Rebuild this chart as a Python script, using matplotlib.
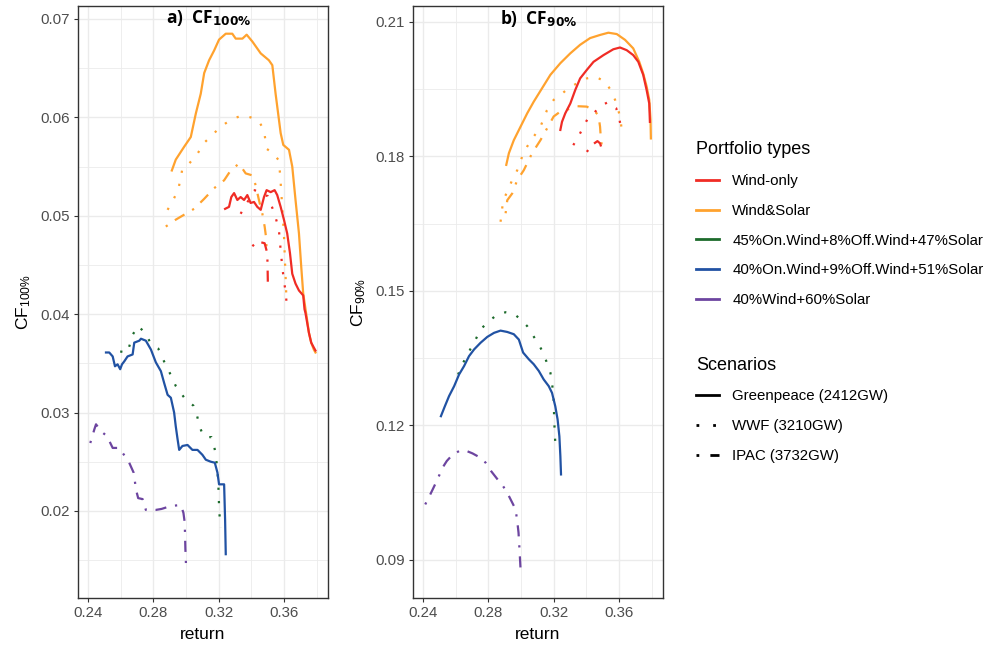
import matplotlib
matplotlib.use("Agg")
import matplotlib.pyplot as plt
from matplotlib.lines import Line2D
from matplotlib.ticker import MultipleLocator, FormatStrFormatter

plt.rcParams['font.family'] = ['Liberation Sans', 'DejaVu Sans']
plt.rcParams['mathtext.fontset'] = 'custom'
plt.rcParams['mathtext.rm'] = 'Liberation Sans'
plt.rcParams['mathtext.it'] = 'Liberation Sans:italic'

# ---- panel a: CF100% ----
a_ws_gp_x = [0.2913, 0.2937, 0.2988, 0.3029, 0.3060, 0.3090, 0.3111, 0.3141, 0.3172, 0.3202,
             0.3243, 0.3283, 0.3304, 0.3345, 0.3371, 0.3406, 0.3457, 0.3507, 0.3528, 0.3548,
             0.3579, 0.3595, 0.3630, 0.3650, 0.3670, 0.3691, 0.3705, 0.3717, 0.3741, 0.3752,
             0.3766, 0.3782, 0.3792]
a_ws_gp_y = [0.0546, 0.0557, 0.0570, 0.0580, 0.0604, 0.0624, 0.0645, 0.0658, 0.0668, 0.0679,
             0.0685, 0.0685, 0.0680, 0.0680, 0.0684, 0.0677, 0.0665, 0.0658, 0.0653, 0.0624,
             0.0584, 0.0572, 0.0567, 0.0550, 0.0516, 0.0482, 0.0448, 0.0421, 0.0394, 0.0381,
             0.0371, 0.0364, 0.0361]
a_wo_gp_x = [0.3239, 0.3263, 0.3277, 0.3294, 0.3314, 0.3334, 0.3355, 0.3375, 0.3395, 0.3416,
             0.3436, 0.3457, 0.3477, 0.3493, 0.3518, 0.3542, 0.3558, 0.3579, 0.3599, 0.3619,
             0.3636, 0.3650, 0.3670, 0.3691, 0.3717, 0.3725, 0.3731, 0.3752, 0.3766, 0.3782,
             0.3792]
a_wo_gp_y = [0.0507, 0.0509, 0.0519, 0.0523, 0.0516, 0.0519, 0.0516, 0.0521, 0.0513, 0.0514,
             0.0509, 0.0506, 0.0519, 0.0526, 0.0524, 0.0526, 0.0521, 0.0509, 0.0496, 0.0482,
             0.0462, 0.0441, 0.0431, 0.0424, 0.0419, 0.0405, 0.0401, 0.0381, 0.0371, 0.0366,
             0.0363]
a_ws_wwf_x = [0.2887, 0.2921, 0.2952, 0.2978, 0.3019, 0.3070, 0.3110, 0.3161, 0.3202, 0.3243,
              0.3294, 0.3345, 0.3395, 0.3446, 0.3477, 0.3493, 0.3538, 0.3568, 0.3575, 0.3583,
              0.3591, 0.3599, 0.3605, 0.3611, 0.3615]
a_ws_wwf_y = [0.0506, 0.0516, 0.0526, 0.0548, 0.0553, 0.0563, 0.0574, 0.0582, 0.0589, 0.0594,
              0.0599, 0.0602, 0.0600, 0.0596, 0.0587, 0.0568, 0.0563, 0.0556, 0.0543, 0.0524,
              0.0502, 0.0482, 0.0455, 0.0431, 0.0411]
a_wo_wwf_x = [0.3334, 0.3380, 0.3420, 0.3460, 0.3500, 0.3542, 0.3568, 0.3579, 0.3589, 0.3599,
              0.3611, 0.3615]
a_wo_wwf_y = [0.0502, 0.0515, 0.0526, 0.0522, 0.0520, 0.0502, 0.0486, 0.0465, 0.0448, 0.0434,
              0.0421, 0.0411]
a_ws_ipac_x = [0.2876, 0.2937, 0.2998, 0.3049, 0.3110, 0.3172, 0.3233, 0.3273, 0.3324, 0.3365,
               0.3406, 0.3426, 0.3446, 0.3467, 0.3481, 0.3489, 0.3493]
a_ws_ipac_y = [0.0489, 0.0496, 0.0502, 0.0507, 0.0517, 0.0528, 0.0536, 0.0546, 0.0553, 0.0543,
               0.0541, 0.0531, 0.0516, 0.0502, 0.0489, 0.0479, 0.0466]
a_wo_ipac_x = [0.3406, 0.3436, 0.3481, 0.3497, 0.3499, 0.3501]
a_wo_ipac_y = [0.0469, 0.0474, 0.0472, 0.0462, 0.0448, 0.0428]
a_blue_x = [0.2510, 0.2530, 0.2551, 0.2565, 0.2581, 0.2597, 0.2608, 0.2622, 0.2642, 0.2673,
            0.2683, 0.2714, 0.2724, 0.2754, 0.2785, 0.2815, 0.2846, 0.2866, 0.2887, 0.2907,
            0.2927, 0.2937, 0.2948, 0.2958, 0.2978, 0.3009, 0.3039, 0.3070, 0.3100, 0.3121,
            0.3151, 0.3176, 0.3192, 0.3202, 0.3233, 0.3239, 0.3243]
a_blue_y = [0.0361, 0.0361, 0.0357, 0.0347, 0.0349, 0.0344, 0.0349, 0.0352, 0.0357, 0.0359,
            0.0371, 0.0373, 0.0375, 0.0373, 0.0364, 0.0351, 0.0342, 0.0330, 0.0318, 0.0315,
            0.0300, 0.0286, 0.0273, 0.0262, 0.0266, 0.0267, 0.0262, 0.0262, 0.0257, 0.0252,
            0.0250, 0.0249, 0.0239, 0.0227, 0.0227, 0.0191, 0.0156]
a_green_x = [0.2597, 0.2642, 0.2673, 0.2707, 0.2754, 0.2781, 0.2830, 0.2856, 0.2887, 0.2937,
             0.2998, 0.3045, 0.3066, 0.3080, 0.3106, 0.3127, 0.3155, 0.3172, 0.3182, 0.3192,
             0.3198, 0.3202, 0.3206, 0.3212]
a_green_y = [0.0362, 0.0361, 0.0379, 0.0388, 0.0380, 0.0371, 0.0365, 0.0355, 0.0345, 0.0327,
             0.0313, 0.0307, 0.0298, 0.0287, 0.0276, 0.0275, 0.0275, 0.0266, 0.0256, 0.0242,
             0.0225, 0.0205, 0.0193, 0.0183]
a_purple_x = [0.2414, 0.2439, 0.2449, 0.2479, 0.2516, 0.2551, 0.2591, 0.2612, 0.2652, 0.2679,
              0.2687, 0.2693, 0.2707, 0.2734, 0.2754, 0.2785, 0.2815, 0.2850, 0.2907, 0.2968,
              0.2984, 0.2992, 0.2996, 0.3001]
a_purple_y = [0.0269, 0.0283, 0.0288, 0.0281, 0.0276, 0.0264, 0.0264, 0.0259, 0.0249, 0.0239,
              0.0230, 0.0222, 0.0213, 0.0212, 0.0201, 0.0201, 0.0201, 0.0202, 0.0205, 0.0206,
              0.0198, 0.0188, 0.0161, 0.0140]

# ---- panel b: CF90% ----
b_ws_gp_x = [0.2910, 0.2926, 0.2956, 0.2997, 0.3038, 0.3078, 0.3129, 0.3180, 0.3241, 0.3302,
             0.3362, 0.3423, 0.3484, 0.3535, 0.3586, 0.3637, 0.3687, 0.3724, 0.3748, 0.3769,
             0.3785, 0.3793, 0.3795]
b_ws_gp_y = [0.1781, 0.1807, 0.1836, 0.1866, 0.1896, 0.1922, 0.1952, 0.1982, 0.2008, 0.2030,
             0.2049, 0.2064, 0.2071, 0.2076, 0.2073, 0.2060, 0.2041, 0.2011, 0.1985, 0.1956,
             0.1926, 0.1881, 0.1840]
b_wo_gp_x = [0.3241, 0.3251, 0.3271, 0.3302, 0.3332, 0.3362, 0.3403, 0.3444, 0.3505, 0.3565,
             0.3606, 0.3647, 0.3687, 0.3718, 0.3748, 0.3769, 0.3785, 0.3789]
b_wo_gp_y = [0.1859, 0.1877, 0.1896, 0.1918, 0.1948, 0.1974, 0.1993, 0.2011, 0.2026, 0.2039,
             0.2043, 0.2037, 0.2026, 0.2011, 0.1982, 0.1948, 0.1918, 0.1877]
b_ws_wwf_x = [0.2875, 0.2891, 0.2916, 0.2946, 0.2977, 0.3007, 0.3038, 0.3078, 0.3119, 0.3159,
              0.3200, 0.3241, 0.3291, 0.3342, 0.3403, 0.3454, 0.3515, 0.3549, 0.3576, 0.3596,
              0.3610, 0.3616]
b_ws_wwf_y = [0.1654, 0.1702, 0.1721, 0.1747, 0.1769, 0.1799, 0.1822, 0.1844, 0.1866, 0.1903,
              0.1926, 0.1937, 0.1952, 0.1963, 0.1974, 0.1978, 0.1967, 0.1948, 0.1926, 0.1903,
              0.1881, 0.1859]
b_wo_wwf_x = [0.3320, 0.3350, 0.3381, 0.3411, 0.3448, 0.3484, 0.3533, 0.3582, 0.3600, 0.3612]
b_wo_wwf_y = [0.1825, 0.1843, 0.1865, 0.1886, 0.1897, 0.1912, 0.1921, 0.1908, 0.1888, 0.1863]
b_ws_ipac_x = [0.2906, 0.2916, 0.2946, 0.2977, 0.3017, 0.3068, 0.3119, 0.3159, 0.3200, 0.3241,
               0.3281, 0.3342, 0.3403, 0.3444, 0.3474, 0.3484, 0.3488, 0.3494]
b_ws_ipac_y = [0.1673, 0.1702, 0.1717, 0.1747, 0.1769, 0.1807, 0.1836, 0.1862, 0.1889, 0.1900,
               0.1904, 0.1912, 0.1911, 0.1903, 0.1892, 0.1866, 0.1844, 0.1825]
b_wo_ipac_x = [0.3403, 0.3433, 0.3468, 0.3484, 0.3490]
b_wo_ipac_y = [0.1810, 0.1825, 0.1834, 0.1829, 0.1822]
b_blue_x = [0.2510, 0.2534, 0.2560, 0.2591, 0.2621, 0.2652, 0.2682, 0.2713, 0.2753, 0.2794,
            0.2835, 0.2875, 0.2916, 0.2956, 0.2987, 0.3013, 0.3048, 0.3078, 0.3109, 0.3139,
            0.3170, 0.3190, 0.3210, 0.3224, 0.3235, 0.3241, 0.3245]
b_blue_y = [0.1220, 0.1242, 0.1265, 0.1287, 0.1313, 0.1332, 0.1354, 0.1369, 0.1384, 0.1397,
            0.1406, 0.1411, 0.1408, 0.1403, 0.1391, 0.1362, 0.1347, 0.1336, 0.1321, 0.1302,
            0.1287, 0.1272, 0.1242, 0.1213, 0.1175, 0.1131, 0.1090]
b_green_x = [0.2615, 0.2642, 0.2672, 0.2713, 0.2753, 0.2804, 0.2855, 0.2906, 0.2956, 0.3001,
             0.3038, 0.3074, 0.3109, 0.3135, 0.3159, 0.3180, 0.3190, 0.3200, 0.3204, 0.3210]
b_green_y = [0.1313, 0.1336, 0.1358, 0.1384, 0.1414, 0.1432, 0.1447, 0.1452, 0.1449, 0.1435,
             0.1421, 0.1400, 0.1380, 0.1362, 0.1339, 0.1317, 0.1295, 0.1257, 0.1205, 0.1159]
b_purple_x = [0.2414, 0.2439, 0.2459, 0.2489, 0.2520, 0.2546, 0.2581, 0.2621, 0.2656, 0.2703,
              0.2753, 0.2784, 0.2818, 0.2865, 0.2885, 0.2916, 0.2952, 0.2967, 0.2977, 0.2985,
              0.2991, 0.2997]
b_purple_y = [0.1023, 0.1041, 0.1056, 0.1079, 0.1105, 0.1120, 0.1134, 0.1142, 0.1144, 0.1137,
              0.1127, 0.1116, 0.1097, 0.1075, 0.1067, 0.1049, 0.1023, 0.1012, 0.0986, 0.0960,
              0.0922, 0.0881]

portfolios = ['Wind-only', 'Wind&Solar', '45%On.Wind+8%Off.Wind+47%Solar',
              '40%On.Wind+9%Off.Wind+51%Solar', '40%Wind+60%Solar']
scenarios = ['Greenpeace (2412GW)', 'WWF (3210GW)', 'IPAC (3732GW)']
x_ticks = [0.24, 0.28, 0.32, 0.36]

colors = {'Wind-only': '#F02C25', 'Wind&Solar': '#FFA22E',
          '45%On.Wind+8%Off.Wind+47%Solar': '#1D6B2C',
          '40%On.Wind+9%Off.Wind+51%Solar': '#2152A3',
          '40%Wind+60%Solar': '#6D45A0'}
styles = {'Greenpeace (2412GW)': '-', 'WWF (3210GW)': (0, (1, 5)),
          'IPAC (3732GW)': (0, (1, 4, 5, 4))}

panel_a = [
    (a_ws_wwf_x, a_ws_wwf_y, 'Wind&Solar', 'WWF (3210GW)'),
    (a_ws_ipac_x, a_ws_ipac_y, 'Wind&Solar', 'IPAC (3732GW)'),
    (a_wo_wwf_x, a_wo_wwf_y, 'Wind-only', 'WWF (3210GW)'),
    (a_wo_ipac_x, a_wo_ipac_y, 'Wind-only', 'IPAC (3732GW)'),
    (a_ws_gp_x, a_ws_gp_y, 'Wind&Solar', 'Greenpeace (2412GW)'),
    (a_wo_gp_x, a_wo_gp_y, 'Wind-only', 'Greenpeace (2412GW)'),
    (a_green_x, a_green_y, '45%On.Wind+8%Off.Wind+47%Solar', 'WWF (3210GW)'),
    (a_blue_x, a_blue_y, '40%On.Wind+9%Off.Wind+51%Solar', 'Greenpeace (2412GW)'),
    (a_purple_x, a_purple_y, '40%Wind+60%Solar', 'IPAC (3732GW)'),
]
panel_b = [
    (b_ws_wwf_x, b_ws_wwf_y, 'Wind&Solar', 'WWF (3210GW)'),
    (b_ws_ipac_x, b_ws_ipac_y, 'Wind&Solar', 'IPAC (3732GW)'),
    (b_wo_wwf_x, b_wo_wwf_y, 'Wind-only', 'WWF (3210GW)'),
    (b_wo_ipac_x, b_wo_ipac_y, 'Wind-only', 'IPAC (3732GW)'),
    (b_ws_gp_x, b_ws_gp_y, 'Wind&Solar', 'Greenpeace (2412GW)'),
    (b_wo_gp_x, b_wo_gp_y, 'Wind-only', 'Greenpeace (2412GW)'),
    (b_green_x, b_green_y, '45%On.Wind+8%Off.Wind+47%Solar', 'WWF (3210GW)'),
    (b_blue_x, b_blue_y, '40%On.Wind+9%Off.Wind+51%Solar', 'Greenpeace (2412GW)'),
    (b_purple_x, b_purple_y, '40%Wind+60%Solar', 'IPAC (3732GW)'),
]

fig = plt.figure(figsize=(9.98, 6.48), dpi=100)
ax1 = fig.add_axes([0.0782, 0.0772, 0.2505, 0.9136])
ax2 = fig.add_axes([0.4138, 0.0772, 0.2505, 0.9136])


def style_axis(ax, ylim, ymajor, title, ylabel):
    ax.set_xlim(0.2339, 0.3869)
    ax.set_ylim(*ylim)
    ax.set_xticks(x_ticks)
    ax.xaxis.set_minor_locator(MultipleLocator(0.02))
    ax.yaxis.set_major_locator(MultipleLocator(ymajor))
    ax.yaxis.set_minor_locator(MultipleLocator(ymajor / 2))
    ax.xaxis.set_major_formatter(FormatStrFormatter('%.2f'))
    ax.yaxis.set_major_formatter(FormatStrFormatter('%.2f'))
    ax.grid(which='major', color='#EBEBEB', lw=1.0)
    ax.grid(which='minor', color='#EBEBEB', lw=0.6)
    ax.set_axisbelow(True)
    ax.tick_params(which='minor', length=0)
    ax.tick_params(which='major', length=3, width=0.8, color='#333333',
                   labelsize=10.8, labelcolor='#4D4D4D', pad=3)
    for s in ax.spines.values():
        s.set_color('#333333')
        s.set_linewidth(1.0)
    ax.set_xlabel('return', fontsize=12.5, labelpad=5)
    ax.set_ylabel(ylabel, fontsize=12.5, labelpad=5)
    ax.text(0.35, 0.997, title, transform=ax.transAxes, ha='left', va='top',
            fontsize=12.5, fontweight='bold', family='Open Sans')


for ax, series in ((ax1, panel_a), (ax2, panel_b)):
    for xs, ys, p, s in series:
        ax.plot(xs, ys, color=colors[p], linestyle=styles[s], lw=1.6)

style_axis(ax1, (0.01115, 0.07132), 0.01, r'a)  CF$_{\mathbf{100\%}}$', r'CF$_{100\%}$')
style_axis(ax2, (0.08142, 0.21357), 0.03, r'b)  CF$_{\mathbf{90\%}}$', r'CF$_{90\%}$')

leg_kw = dict(loc='upper left', frameon=False, fontsize=10.8, title_fontsize=13,
              handlelength=1.5, handletextpad=0.9, labelspacing=1.05,
              alignment='left', borderpad=0.2)
h1 = [Line2D([], [], color=colors[p], lw=2) for p in portfolios]
fig.legend(h1, portfolios, title='Portfolio types',
           bbox_to_anchor=(0.687, 0.798), **leg_kw)
h2 = [Line2D([], [], color='black', lw=2, linestyle=styles[s]) for s in scenarios]
fig.legend(h2, scenarios, title='Scenarios',
           bbox_to_anchor=(0.687, 0.466), **leg_kw)

fig.savefig('out.png', dpi=100)
